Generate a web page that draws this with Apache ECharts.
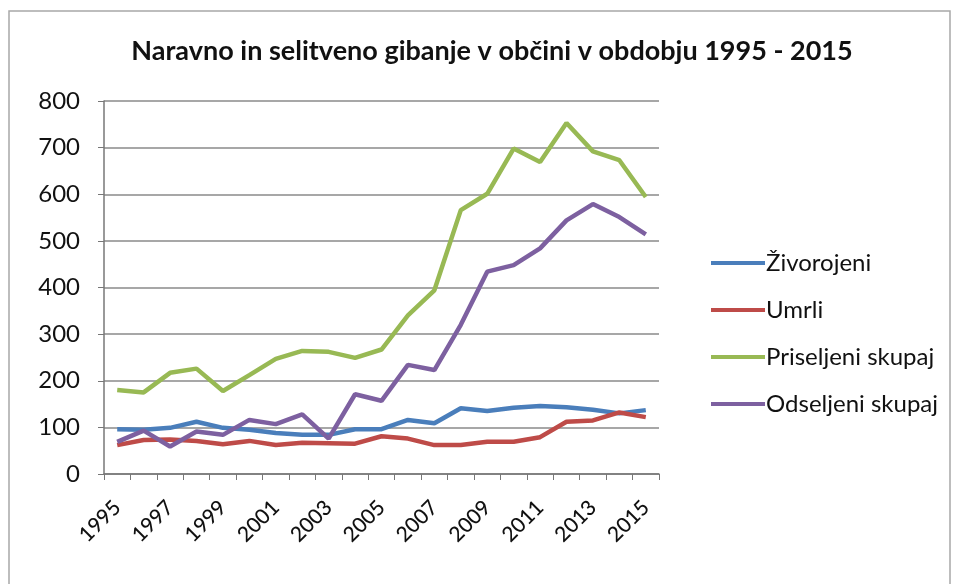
<!DOCTYPE html>
<html>
<head>
<meta charset="utf-8">
<script src="https://cdn.jsdelivr.net/npm/echarts@6/dist/echarts.min.js"></script>
<style>
  html, body { margin: 0; padding: 0; background: #fff; }
  #chart { width: 955px; height: 584px; }
</style>
</head>
<body>
<div id="chart"></div>
<script>
var years = ["1995", "1996", "1997", "1998", "1999", "2000", "2001", "2002", "2003", "2004", "2005",
  "2006", "2007", "2008", "2009", "2010", "2011", "2012", "2013", "2014", "2015"];
var zivorojeni = [96, 95, 99, 112, 99, 95, 88, 84, 84, 96, 96, 116, 109, 141, 135, 142, 146, 143, 138, 130, 137];
var umrli = [62, 73, 74, 71, 64, 71, 62, 67, 66, 65, 81, 76, 62, 62, 69, 69, 79, 112, 115, 132, 122];
var priseljeni = [180, 175, 217, 226, 178, 212, 247, 264, 262, 249, 267, 340, 394, 566, 601, 698, 669, 753, 692, 673, 594];
var odseljeni = [69, 93, 59, 91, 84, 116, 107, 128, 76, 171, 157, 234, 223, 320, 434, 448, 484, 544, 579, 551, 514];

var chart = echarts.init(document.getElementById("chart"));

function line(name, data, color) {
  return {
    name: name,
    type: "line",
    data: data,
    symbol: "none",
    lineStyle: { width: 4.5, color: color },
    itemStyle: { color: color }
  };
}

chart.setOption({
  animation: false,
  textStyle: { fontFamily: "Lato, 'Open Sans', sans-serif", color: "#000" },
  title: {
    text: "Naravno in selitveno gibanje v občini v obdobju 1995 - 2015",
    left: 487,
    top: 33,
    textAlign: "center",
    textStyle: { fontSize: 27, fontWeight: "bold", color: "#111", fontFamily: "Lato, 'Open Sans', sans-serif" }
  },
  graphic: [{
    type: "rect",
    shape: { x: 9, y: 11, width: 941, height: 590 },
    style: { fill: "none", stroke: "#a8a8a8", lineWidth: 1.5 }
  }],
  legend: {
    orient: "vertical",
    left: 706,
    top: 246,
    itemWidth: 54,
    itemHeight: 4,
    itemGap: 23,
    icon: "rect",
    textStyle: { fontSize: 24, color: "#111", padding: [0, 0, 0, -4] },
    data: ["Živorojeni", "Umrli", "Priseljeni skupaj", "Odseljeni skupaj"]
  },
  grid: { left: 104, right: 296, top: 101, bottom: 110 },
  xAxis: {
    type: "category",
    data: years,
    boundaryGap: true,
    axisLine: { lineStyle: { color: "#777", width: 1.5 } },
    axisTick: { show: true, interval: 0, length: 6, lineStyle: { color: "#777" } },
    axisLabel: { interval: 1, rotate: 45, fontSize: 21, fontWeight: 500, color: "#111", margin: 30 }
  },
  yAxis: {
    type: "value",
    min: 0,
    max: 800,
    interval: 100,
    axisLine: { show: true, lineStyle: { color: "#777", width: 1.5 } },
    axisTick: { show: true, length: 6, lineStyle: { color: "#777" } },
    axisLabel: { fontSize: 24, color: "#111", margin: 24 },
    splitLine: { lineStyle: { color: "#8a8a8a", width: 1.5 } }
  },
  series: [
    line("Živorojeni", zivorojeni, "#4a7ebb"),
    line("Umrli", umrli, "#be4b48"),
    line("Priseljeni skupaj", priseljeni, "#98b954"),
    line("Odseljeni skupaj", odseljeni, "#7d60a0")
  ]
});
</script>
</body>
</html>
